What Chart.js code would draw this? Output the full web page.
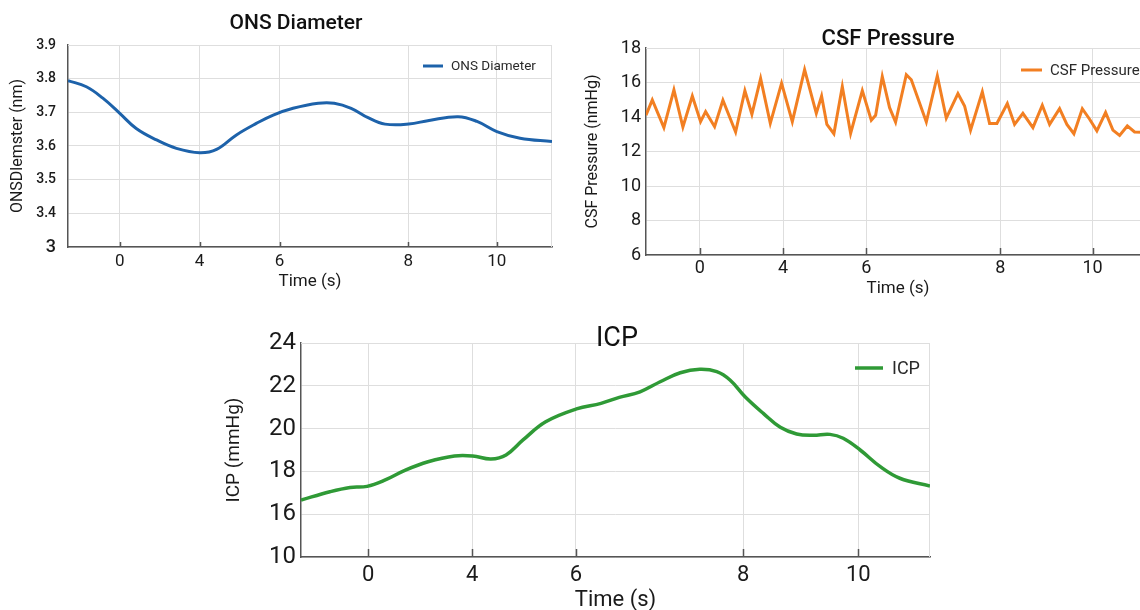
<!DOCTYPE html>
<html>
<head>
<meta charset="utf-8">
<title>ONS Diameter / CSF Pressure / ICP</title>
<script src="https://cdn.jsdelivr.net/npm/chart.js@4.4.1/dist/chart.umd.min.js"></script>
<style>
  html, body { margin: 0; padding: 0; background: #fff; overflow: hidden; }
  body { width: 1140px; height: 610px; position: relative; }
  .panel { position: absolute; }
  .panel canvas { display: block; }
  #ons-panel { left: 0; top: 0; }
  #csf-panel { left: 570px; top: 0; }
  #icp-panel { left: 215px; top: 310px; }
</style>
</head>
<body>
<div class="panel" id="ons-panel"><canvas id="ons-chart" width="570" height="300"></canvas></div>
<div class="panel" id="csf-panel"><canvas id="csf-chart" width="600" height="300"></canvas></div>
<div class="panel" id="icp-panel"><canvas id="icp-chart" width="735" height="310"></canvas></div>
<script>
// The time labels in the source are not evenly spaced, so x is the position
// along the trace (0-100) and the labelled ticks sit where they are drawn.
const TIME_TICK_AT = [10.7, 27.2, 43.7, 70.3, 88.6];
const TIME_TICK_LABELS = ['0', '4', '6', '8', '10'];

// ONS Diameter
const onsTime = [0, 3.8, 7.2, 10.7, 14.1, 18.3, 22.4, 27.2, 30.7, 34.8, 38.9, 42.4, 46.5, 51.7, 55, 58.5, 62, 65.5, 70.4, 74.6, 80.6, 84.5, 88.6, 93.4, 100];
const onsValues = [3.794, 3.776, 3.742, 3.697, 3.652, 3.618, 3.593, 3.580, 3.590, 3.633, 3.667, 3.692, 3.712, 3.727, 3.727, 3.712, 3.684, 3.665, 3.665, 3.676, 3.687, 3.673, 3.643, 3.623, 3.613];
const onsYTicks = [3.3, 3.4, 3.5, 3.6, 3.7, 3.8, 3.9];
const onsYLabels = ['3', '3.4', '3.5', '3.6', '3.7', '3.8', '3.9'];

// CSF Pressure
const csfTime = [0, 1.25, 3.55, 5.54, 7.32, 9.19, 10.83, 11.83, 13.61, 15.26, 17.78, 19.62, 21.01, 22.74, 24.66, 26.9, 29.03, 31.47, 33.79, 34.84, 35.89, 37.28, 38.95, 40.6, 42.92, 44.7, 45.56, 46.88, 48.33, 49.52, 51.65, 52.64, 55.62, 57.8, 59.58, 61.89, 63.21, 64.4, 66.73, 68.17, 69.62, 71.69, 73.13, 74.78, 76.77, 78.63, 80.08, 82.06, 83.51, 84.9, 86.57, 88.02, 89.46, 91.19, 92.64, 93.97, 95.5, 96.94, 100];
const csfValues = [14.1, 14.99, 13.38, 15.57, 13.42, 15.22, 13.73, 14.31, 13.44, 14.97, 13.13, 15.52, 14.16, 16.23, 13.63, 15.96, 13.73, 16.74, 14.21, 15.22, 13.57, 13.03, 15.77, 13.05, 15.53, 13.81, 14.1, 16.35, 14.54, 13.71, 16.45, 16.16, 13.71, 16.39, 13.94, 15.36, 14.64, 13.24, 15.46, 13.63, 13.63, 14.78, 13.57, 14.21, 13.38, 14.68, 13.57, 14.48, 13.57, 13.03, 14.48, 13.87, 13.2, 14.26, 13.24, 12.93, 13.48, 13.13, 13.1];
const csfYTicks = [6, 8, 10, 12, 14, 16, 18];
const csfYLabels = ['6', '8', '10', '12', '14', '16', '18'];

// ICP
const icpTime = [0, 4.6, 7.8, 10.5, 13.4, 16.6, 20.2, 24.4, 27.3, 30.2, 32.6, 35.3, 38.9, 43.8, 47.7, 50.6, 53.9, 57.1, 60.3, 63.4, 66.1, 68.2, 70.6, 73.5, 76.2, 78.8, 81.4, 84.1, 86.2, 88.9, 92.1, 95.2, 100];
const icpValues = [16.66, 17.05, 17.25, 17.3, 17.6, 18.06, 18.45, 18.72, 18.72, 18.58, 18.77, 19.47, 20.32, 20.92, 21.18, 21.46, 21.72, 22.19, 22.61, 22.77, 22.66, 22.27, 21.49, 20.71, 20.06, 19.75, 19.69, 19.73, 19.55, 19.0, 18.22, 17.68, 17.32];
const icpYTicks = [14, 16, 18, 20, 22, 24];
const icpYLabels = ['10', '16', '18', '20', '22', '24'];

const FONT = 'Roboto, "Liberation Sans", Arial, sans-serif';
const GRID_COLOR = '#dedede';
const AXIS_COLOR = '#555555';
const TEXT_COLOR = '#1a1a1a';

function toPoints(xs, ys) {
  return xs.map((x, i) => ({ x, y: ys[i] }));
}

// 枠の上辺・右辺、内向きの目盛り、タイトル、凡例を描く
const panelDecor = {
  id: 'panelDecor',
  beforeDatasetsDraw(chart, args, opts) {
    const { ctx, chartArea: a } = chart;
    const xs = chart.scales.x;
    ctx.save();
    ctx.strokeStyle = GRID_COLOR;
    ctx.lineWidth = 1;
    ctx.beginPath();
    ctx.moveTo(a.left, a.top + 0.5);
    ctx.lineTo(a.right, a.top + 0.5);
    ctx.moveTo(a.right - 0.5, a.top);
    ctx.lineTo(a.right - 0.5, a.bottom);
    ctx.stroke();

    ctx.strokeStyle = AXIS_COLOR;
    ctx.lineWidth = 1.5;
    ctx.beginPath();
    TIME_TICK_AT.forEach((v) => {
      const px = Math.round(xs.getPixelForValue(v)) + 0.5;
      ctx.moveTo(px, a.bottom);
      ctx.lineTo(px, a.bottom - opts.tickLen);
    });
    ctx.stroke();
    ctx.restore();
  },
  afterDraw(chart, args, opts) {
    const { ctx, chartArea: a } = chart;
    const ds = chart.data.datasets[0];
    ctx.save();

    // タイトル
    const t = opts.title;
    ctx.fillStyle = '#111';
    ctx.font = `${t.weight} ${t.size}px ${FONT}`;
    ctx.textAlign = 'center';
    ctx.textBaseline = 'middle';
    ctx.fillText(t.text, (a.left + a.right) / 2 + t.dx, a.top + t.dy);

    // 凡例
    const lg = opts.legend;
    const lx = a.right + lg.dx;
    const ly = a.top + lg.dy;
    ctx.strokeStyle = ds.borderColor;
    ctx.lineWidth = ds.borderWidth;
    ctx.beginPath();
    ctx.moveTo(lx, ly);
    ctx.lineTo(lx + lg.lineLen, ly);
    ctx.stroke();
    ctx.fillStyle = '#2a2a2a';
    ctx.font = `${lg.size}px ${FONT}`;
    ctx.textAlign = 'left';
    ctx.fillText(ds.label, lx + lg.lineLen + lg.gap, ly + 1);
    ctx.restore();
  },
};

function buildPanel(canvasId, spec) {
  return new Chart(document.getElementById(canvasId), {
    type: 'line',
    data: {
      datasets: [{
        label: spec.label,
        data: toPoints(spec.xs, spec.ys),
        borderColor: spec.color,
        borderWidth: spec.lineWidth,
        pointRadius: 0,
        tension: spec.smooth ? 0.4 : 0,
        fill: false,
      }],
    },
    options: {
      responsive: false,
      animation: false,
      layout: { padding: { top: spec.padTop, right: spec.padRight, left: 0, bottom: 0 } },
      plugins: {
        legend: { display: false },
        title: { display: false },
        tooltip: { enabled: false },
        panelDecor: { tickLen: spec.tickLen, title: spec.title, legend: spec.legend },
      },
      scales: {
        x: {
          type: 'linear',
          min: 0,
          max: 100,
          afterBuildTicks: (s) => { s.ticks = TIME_TICK_AT.map((v) => ({ value: v })); },
          afterFit: (s) => { s.height = spec.xHeight; },
          grid: { color: GRID_COLOR, drawTicks: false },
          border: { color: AXIS_COLOR, width: 1.5 },
          ticks: {
            autoSkip: false,
            maxRotation: 0,
            padding: spec.xTickPad,
            color: TEXT_COLOR,
            font: { family: FONT, size: spec.xTickSize },
            callback: (v, i) => TIME_TICK_LABELS[i],
          },
          title: {
            display: true,
            text: 'Time (s)',
            color: TEXT_COLOR,
            font: { family: FONT, size: spec.xTitleSize },
            padding: { top: 0, bottom: spec.xTitlePad },
          },
        },
        y: {
          min: spec.yTicks[0],
          max: spec.yTicks[spec.yTicks.length - 1],
          afterBuildTicks: (s) => { s.ticks = spec.yTicks.map((v) => ({ value: v })); },
          afterFit: (s) => { s.width = spec.yWidth; },
          grid: { color: GRID_COLOR, drawTicks: false },
          border: { color: AXIS_COLOR, width: 1.5 },
          ticks: {
            padding: spec.yTickPad,
            color: TEXT_COLOR,
            font: spec.yTickFont,
            callback: (v, i) => spec.yLabels[i],
          },
          title: {
            display: true,
            text: spec.yTitle,
            color: TEXT_COLOR,
            font: { family: FONT, size: spec.yTitleSize },
            padding: { top: spec.yTitlePad, bottom: 0 },
          },
        },
      },
    },
    plugins: [panelDecor],
  });
}

buildPanel('ons-chart', {
  label: 'ONS Diameter',
  xs: onsTime, ys: onsValues,
  color: '#1d62aa', lineWidth: 3, smooth: true,
  yTicks: onsYTicks, yLabels: onsYLabels,
  yTitle: 'ONSDlemster (nm)',
  padTop: 45, padRight: 18, yWidth: 68, xHeight: 53,
  xTickPad: 5, xTickSize: 17, xTitleSize: 17, xTitlePad: 8,
  yTickPad: 12, yTitleSize: 16, yTitlePad: 8,
  yTickFont: (c) => ({ family: FONT, size: c.tick && c.tick.value === 3.3 ? 18 : 14, weight: '500' }),
  tickLen: 5,
  title: { text: 'ONS Diameter', size: 21, weight: '500', dx: -14, dy: -21 },
  legend: { dx: -129, dy: 21, lineLen: 20, gap: 8, size: 13.5 },
});

buildPanel('csf-chart', {
  label: 'CSF Pressure',
  xs: csfTime, ys: csfValues,
  color: '#f27f22', lineWidth: 3, smooth: false,
  yTicks: csfYTicks, yLabels: csfYLabels,
  yTitle: 'CSF Pressure (nmHg)',
  padTop: 48, padRight: 20, yWidth: 76, xHeight: 45,
  xTickPad: 3, xTickSize: 18, xTitleSize: 17, xTitlePad: 1,
  yTickPad: 5, yTitleSize: 16, yTitlePad: 13,
  yTickFont: { family: FONT, size: 18 },
  tickLen: 7,
  title: { text: 'CSF Pressure', size: 22, weight: '500', dx: -10, dy: -9 },
  legend: { dx: -129, dy: 22, lineLen: 21, gap: 8, size: 15 },
});

buildPanel('icp-chart', {
  label: 'ICP',
  xs: icpTime, ys: icpValues,
  color: '#2f9a36', lineWidth: 3.5, smooth: true,
  yTicks: icpYTicks, yLabels: icpYLabels,
  yTitle: 'ICP (mmHg)',
  padTop: 33, padRight: 20, yWidth: 86, xHeight: 63,
  xTickPad: 5, xTickSize: 22, xTitleSize: 22, xTitlePad: 6,
  yTickPad: 5, yTitleSize: 19, yTitlePad: 8,
  yTickFont: { family: FONT, size: 24 },
  tickLen: 8,
  title: { text: 'ICP', size: 27, weight: 'normal', dx: 1.5, dy: -4 },
  legend: { dx: -75, dy: 25, lineLen: 28, gap: 9, size: 18 },
});
</script>
</body>
</html>
